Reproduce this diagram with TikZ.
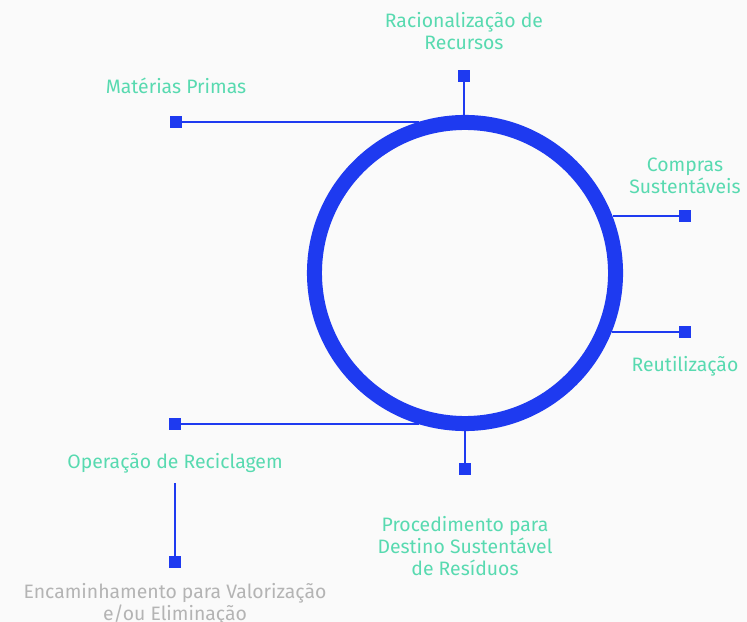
\documentclass[tikz,border=0pt]{standalone}
\usepackage{fontspec}
\setmainfont{Fira Sans}
\definecolor{ringblue}{RGB}{30,58,240}
\definecolor{labelgreen}{RGB}{88,218,176}
\definecolor{mutedgray}{RGB}{180,180,180}
\definecolor{pagebg}{RGB}{250,250,250}
\usepackage{tikz}
\usetikzlibrary{positioning,calc}

\begin{document}
\begin{tikzpicture}[x=0.025cm,y=-0.025cm,
    pin/.style={fill=ringblue,minimum size=0.3cm,inner sep=0pt},
    link/.style={draw=ringblue,line width=1.5pt},
    tag/.style={font=\fontsize{13.8}{15.6}\selectfont\color{labelgreen},align=center},
    faded/.style={font=\fontsize{13.8}{15.6}\selectfont\color{mutedgray},align=center}]
  % background and size
  \fill[pagebg] (0,0) rectangle (747,622);
  \useasboundingbox (0,0) rectangle (747,622);
  % the ring
  \node[circle,draw=ringblue,line width=0.375cm,minimum size=7.525cm,inner sep=0pt] (ring) at (465,273) {};
  % end markers
  \node[pin] (pRec) at (464,76) {};
  \node[pin] (pMat) at (176,122) {};
  \node[pin] (pCom) at (685,216) {};
  \node[pin] (pReu) at (685,332) {};
  \node[pin] (pOpe) at (175,424) {};
  \node[pin] (pPro) at (465,469) {};
  \node[pin] (pEnc) at (175,562) {};
  \coordinate (oTop) at (175,483);
  % links
  \draw[link] (pRec) -- (pRec |- ring.north);
  \draw[link] (pMat) -- (pMat -| ring.107);
  \draw[link] (pCom) -- (pCom -| ring.21);
  \draw[link] (pReu) -- (pReu -| ring.338);
  \draw[link] (pOpe) -- (pOpe -| ring.253);
  \draw[link] (pPro) -- (pPro |- ring.south);
  \draw[link] (oTop) -- (pEnc);
  % labels
  \node[tag] (tRec) at (464,31) {Racionalização de\\Recursos};
  \node[tag] (tMat) at (176,86) {Matérias Primas};
  \node[tag] (tCom) at (685,176) {Compras\\Sustentáveis};
  \node[tag] (tReu) at (685,366) {Reutilização};
  \node[tag] (tOpe) at (175,463) {Operação de Reciclagem};
  \node[tag] (tPro) at (465,546) {Procedimento para\\Destino Sustentável\\de Resíduos};
  \node[faded] (tEnc) at (175,604) {Encaminhamento para Valorização\\e/ou Eliminação};
\end{tikzpicture}
\end{document}
